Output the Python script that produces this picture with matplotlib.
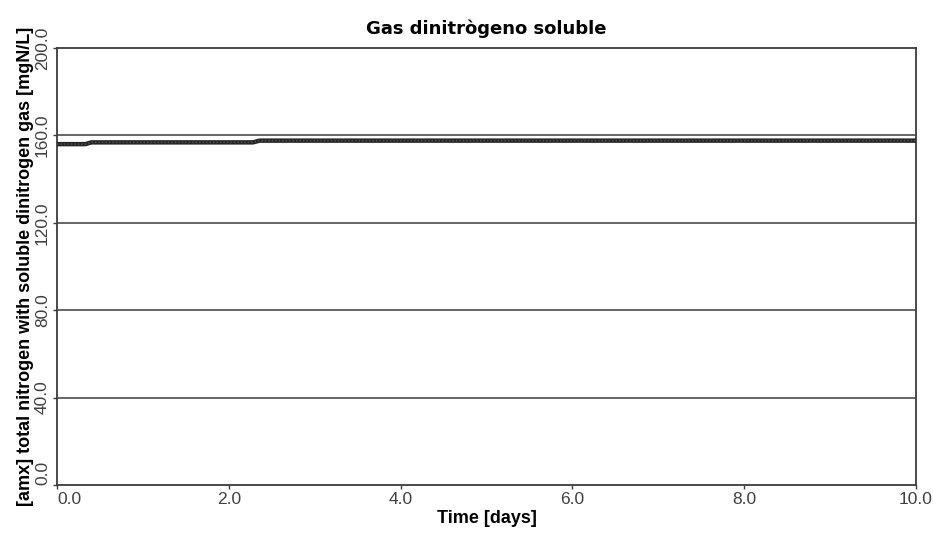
import matplotlib
matplotlib.use("Agg")
import matplotlib.pyplot as plt

plt.rcParams['font.family'] = ['Liberation Sans', 'DejaVu Sans']

time_days = [0.0, 0.33, 0.40, 2.28, 2.36, 10.0]
n2_conc = [156.0, 156.0, 156.8, 156.8, 157.6, 157.6]

x_ticks = [0, 2, 4, 6, 8, 10]
y_ticks = [0, 40, 80, 120, 160, 200]

fig = plt.figure(figsize=(9.33, 5.35), dpi=100)
ax = fig.add_axes([0.0611, 0.0935, 0.9207, 0.8168])

for yv in y_ticks[1:-1]:
    ax.axhline(yv, color='#3c3c3c', lw=1.1, zorder=1)

ax.plot(time_days, n2_conc, color='#262626', lw=3.2, solid_capstyle='butt', zorder=3)
ax.plot(time_days, n2_conc, color='#555555', lw=1.0, ls=(0, (1, 1.5)), zorder=4)

ax.set_xlim(0, 10)
ax.set_ylim(0, 200)
ax.set_xticks(x_ticks)
ax.set_xticklabels([f"{v:.1f}" for v in x_ticks], fontsize=12.5, color='#404040')
ax.set_yticks(y_ticks)
ax.set_yticklabels([f"{v:.1f}" for v in y_ticks], fontsize=12.5, color='#404040',
                   rotation=90, va='center')
# first labels kept inside the axes corner
ax.get_xticklabels()[0].set_ha('left')
ax.get_yticklabels()[0].set_va('bottom')

for s in ax.spines.values():
    s.set_color('#3c3c3c')
    s.set_linewidth(1.3)

ax.tick_params(axis='both', length=3, width=1, color='#3c3c3c', pad=2)

ax.set_xlabel("Time [days]", fontsize=13, fontweight='bold', labelpad=2)
ax.set_ylabel("[amx] total nitrogen with soluble dinitrogen gas [mgN/L]",
              fontsize=13, fontweight='bold', labelpad=1)
ax.set_title("Gas dinitrògeno soluble", fontsize=13, fontweight='bold',
             family=['DejaVu Sans'], pad=10)

fig.savefig("out.png", dpi=100)
